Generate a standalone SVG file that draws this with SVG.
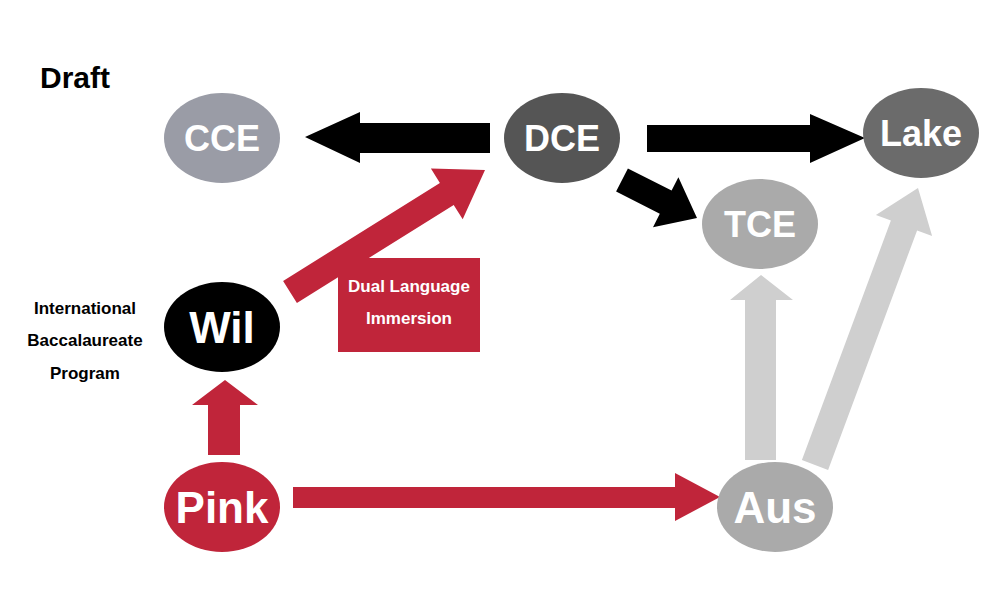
<svg xmlns="http://www.w3.org/2000/svg" width="1000" height="615" viewBox="0 0 1000 615">
<style>
.n{font-family:"Liberation Sans",Arial,sans-serif;font-weight:bold;fill:#fff;text-anchor:middle}
.t{font-family:"Liberation Sans",Arial,sans-serif;font-weight:bold;fill:#000;text-anchor:middle;font-size:17px}
</style>
<rect width="1000" height="615" fill="#fff"/>
<text x="40" y="88" font-family="Liberation Sans,Arial,sans-serif" font-weight="bold" font-size="30">Draft</text>
<g id="connectors">
<polygon fill="#000" points="490,123 360,123 360,112 305,137 360,163 360,153 490,153"/>
<polygon fill="#000" points="647,125 810,125 810,114 865,138 810,163 810,152 647,152"/>
<polygon fill="#000" points="627.9,168.4 671.6,190.6 678.4,177.2 697,218 653,227.2 659.8,213.8 616.1,191.6"/>
<polygon fill="#c0253a" points="283.1,281 439.9,182.9 430.9,168.5 485,170 462.7,219.3 453.7,204.9 296.9,303"/>
<polygon fill="#c0253a" points="208,455 208,405 192,405 225,380 258,405 240,405 240,455"/>
<polygon fill="#c0253a" points="293,487 675,487 675,473 720,497 675,521 675,508 293,508"/>
<polygon fill="#cfcfcf" points="745,460 745,300 730,300 761,275 793,300 776,300 776,460"/>
<polygon fill="#cfcfcf" points="801.9,460.1 890.9,220.6 875.9,215 918,188 932.1,236 917.1,230.4 828.1,469.9"/>
</g>
<g id="label-dli">
<rect x="338" y="258" width="142" height="94" fill="#c0253a"/>
<text class="n" x="409" y="292" font-size="17">Dual Language</text>
<text class="n" x="409" y="324" font-size="17">Immersion</text>
</g>
<g id="CCE"><ellipse cx="222" cy="138" rx="58" ry="45" fill="#9a9ca6"/><text class="n" x="222" y="151" font-size="36">CCE</text></g>
<g id="DCE"><ellipse cx="562" cy="138" rx="58" ry="45" fill="#555"/><text class="n" x="562" y="151" font-size="36">DCE</text></g>
<g id="Lake"><ellipse cx="921" cy="133" rx="58" ry="45" fill="#6b6b6b"/><text class="n" x="921" y="146" font-size="36">Lake</text></g>
<g id="TCE"><ellipse cx="760" cy="224" rx="58" ry="45" fill="#aaa"/><text class="n" x="760" y="237" font-size="36">TCE</text></g>
<g id="Wil"><ellipse cx="222" cy="327" rx="58" ry="45" fill="#000"/><text class="n" x="222" y="343" font-size="44">Wil</text></g>
<g id="Pink"><ellipse cx="222" cy="507" rx="58" ry="45" fill="#c0253a"/><text class="n" x="222" y="523" font-size="44">Pink</text></g>
<g id="Aus"><ellipse cx="775" cy="507" rx="58" ry="45" fill="#aaa"/><text class="n" x="775" y="523" font-size="44">Aus</text></g>
<g id="ib-label">
<text class="t" x="85" y="314">International</text>
<text class="t" x="85" y="346">Baccalaureate</text>
<text class="t" x="85" y="379">Program</text>
</g>
</svg>
